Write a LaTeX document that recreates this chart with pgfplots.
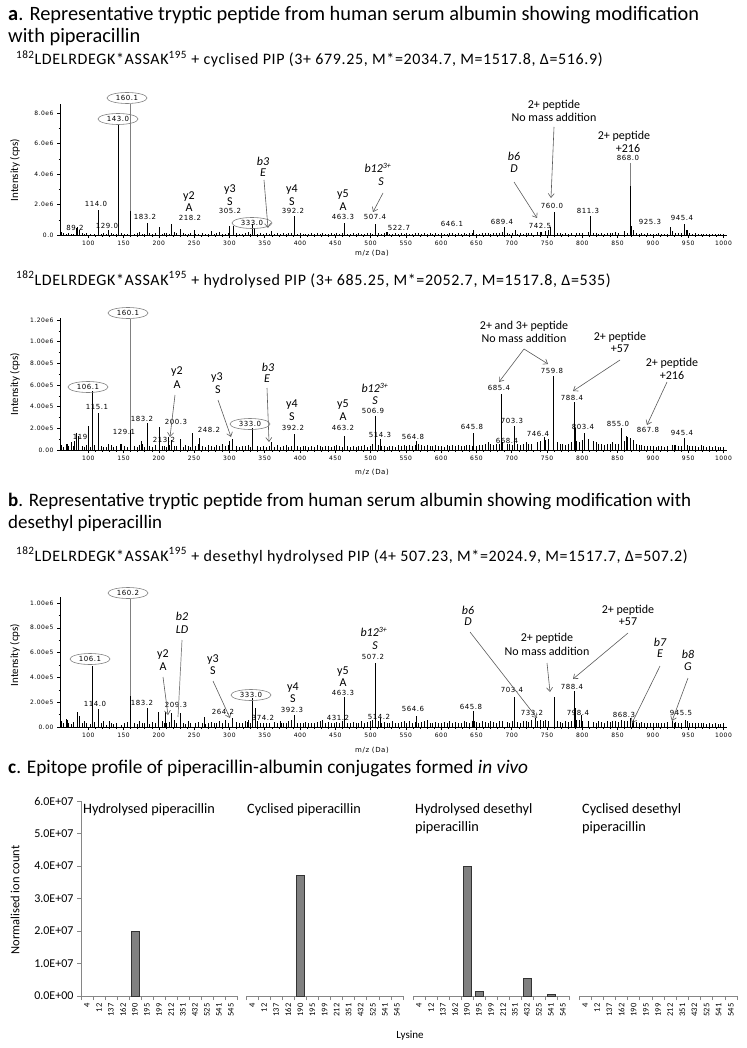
\documentclass[border=0pt]{standalone}
\usepackage{fontspec}
\setmainfont{Carlito}
\newfontfamily\ticfont[LetterSpace=8]{DejaVu Sans}
\newfontfamily\subfont[LetterSpace=4]{Carlito}
\usepackage{pgfplots}
\usepackage{pgfplotstable}
\pgfplotsset{compat=1.18}
\usetikzlibrary{shapes.geometric,arrows.meta}

\definecolor{ldr}{RGB}{128,128,128}
\definecolor{arrc}{RGB}{90,90,90}
\definecolor{barg}{RGB}{128,128,128}
\definecolor{axg}{RGB}{134,134,134}

% baseline noise of the three spectra (n1 in 1e6 cps, n2 and n3 in 1e5 cps)
\pgfplotstableread{
mz n1 n2 n3
62 0.22 0.45 0.50
65 0.10 0.30 0.35
69 0.08 0.55 0.65
72 0.12 0.35 0.30
76 0.06 0.70 0.25
79 0.09 0.40 0.40
91 0.10 0.35 0.30
94 0.07 0.25 0.45
97 0.12 0.45 0.35
103 0.05 0.30 0.25
109 0.08 0.50 0.40
118 0.06 0.35 0.30
121 0.10 0.30 0.45
125 0.07 0.25 0.20
132 0.15 0.45 0.35
135 0.06 0.30 0.25
139 0.08 0.40 0.30
147 0.10 0.55 0.20
151 0.06 0.35 0.30
155 0.09 0.25 0.40
165 0.07 0.40 0.35
169 0.12 0.30 0.25
172 0.18 0.45 0.50
176 0.08 0.55 0.30
179 0.06 0.30 0.35
187 0.10 0.35 0.25
191 0.08 0.25 0.40
195 0.12 0.50 0.30
205 0.09 0.40 0.45
208 0.15 0.35 0.35
211 0.10 0.30 0.30
215 0.07 0.45 0.40
222 0.20 0.35 0.55
225 0.12 0.40 0.30
235 0.10 0.30 0.35
238 0.06 0.50 0.25
242 0.08 0.40 0.45
245 0.14 0.30 0.30
252 0.07 0.35 0.30
256 0.09 0.55 0.40
262 0.11 0.40 0.35
266 0.07 0.30 0.25
270 0.09 0.45 0.30
274 0.20 0.35 0.40
278 0.08 0.30 0.35
282 0.12 0.45 0.30
286 0.18 0.35 0.45
290 0.09 0.55 0.35
294 0.07 0.40 0.60
298 0.12 0.50 0.35
310 0.10 0.35 0.40
314 0.08 0.30 0.30
318 0.07 0.40 0.35
322 0.12 0.35 0.50
326 0.20 0.45 0.55
329 0.09 0.30 0.30
340 0.08 0.40 0.45
344 0.10 0.30 0.35
348 0.07 0.35 0.30
352 0.12 0.30 0.35
356 0.09 0.40 0.30
364 0.08 0.30 0.40
368 0.10 0.45 0.30
372 0.09 0.30 0.50
376 0.12 0.35 0.30
380 0.07 0.45 0.35
384 0.10 0.30 0.45
388 0.15 0.40 0.55
396 0.08 0.35 0.30
400 0.11 0.30 0.35
404 0.07 0.40 0.30
408 0.09 0.35 0.40
412 0.06 0.30 0.35
416 0.10 0.40 0.30
420 0.08 0.30 0.35
424 0.12 0.45 0.40
428 0.07 0.35 0.50
432 0.10 0.30 0.60
436 0.08 0.40 0.35
440 0.09 0.35 0.40
444 0.12 0.30 0.30
448 0.07 0.40 0.35
452 0.10 0.45 0.40
456 0.08 0.35 0.30
460 0.14 0.30 0.45
467 0.09 0.40 0.35
471 0.07 0.30 0.30
475 0.10 0.35 0.40
479 0.08 0.30 0.35
483 0.12 0.40 0.30
487 0.07 0.35 0.45
491 0.09 0.45 0.35
495 0.11 0.30 0.40
499 0.15 0.40 0.50
503 0.09 0.60 0.60
511 0.12 0.50 0.45
515 0.08 0.40 0.35
519 0.10 0.35 0.40
523 0.20 0.30 0.35
527 0.08 0.40 0.30
531 0.09 0.35 0.45
535 0.12 0.30 0.35
539 0.07 0.45 0.30
543 0.10 0.35 0.40
547 0.08 0.50 0.45
551 0.11 0.40 0.35
555 0.09 0.45 0.50
559 0.07 0.35 0.35
563 0.10 0.50 0.40
568 0.12 0.60 0.35
572 0.08 0.50 0.40
576 0.10 0.40 0.45
580 0.09 0.45 0.60
584 0.11 0.35 0.35
588 0.07 0.40 0.30
592 0.10 0.45 0.40
596 0.08 0.35 0.35
600 0.12 0.40 0.30
604 0.09 0.30 0.40
608 0.07 0.50 0.35
612 0.15 0.40 0.45
616 0.12 0.45 0.30
620 0.08 0.35 0.40
624 0.10 0.50 0.35
628 0.09 0.40 0.30
632 0.12 0.35 0.45
636 0.08 0.45 0.40
640 0.15 0.50 0.35
644 0.10 0.40 0.50
650 0.09 0.35 0.40
654 0.08 0.45 0.35
658 0.11 0.50 0.45
662 0.10 0.60 0.40
666 0.12 0.70 0.35
670 0.09 0.55 0.45
674 0.10 0.50 0.40
678 0.15 0.60 0.35
682 0.12 0.55 0.50
686 0.20 0.70 0.45
693 0.12 0.55 0.40
697 0.09 0.60 0.35
701 0.10 0.50 0.45
708 0.08 0.55 0.40
712 0.12 0.45 0.35
716 0.09 0.60 0.50
720 0.15 0.70 0.45
724 0.10 0.55 0.40
728 0.12 0.60 0.60
736 0.18 0.70 0.50
740 0.20 0.80 0.55
748 0.25 0.90 0.60
752 0.30 1.00 0.50
764 0.12 0.70 0.45
768 0.10 0.60 0.40
772 0.09 0.55 0.35
776 0.12 0.50 0.45
780 0.08 0.60 0.40
784 0.10 0.70 0.50
792 0.15 0.80 0.60
796 0.12 0.70 0.55
800 0.10 0.90 0.50
808 0.20 1.00 0.45
815 0.15 0.80 0.40
819 0.10 0.70 0.35
823 0.08 0.60 0.45
827 0.12 0.55 0.40
831 0.09 0.50 0.35
835 0.10 0.60 0.45
839 0.12 0.55 0.40
843 0.15 0.70 0.50
847 0.20 0.60 0.45
851 0.12 0.55 0.40
859 0.25 0.80 0.50
863 0.15 1.20 0.45
872 0.30 0.90 0.60
876 0.12 0.60 0.40
880 0.09 0.50 0.35
884 0.10 0.45 0.40
888 0.08 0.40 0.35
892 0.10 0.35 0.30
896 0.07 0.40 0.35
900 0.09 0.35 0.30
904 0.08 0.30 0.35
908 0.10 0.35 0.30
912 0.07 0.40 0.35
916 0.09 0.30 0.30
920 0.08 0.35 0.40
928 0.25 0.50 0.45
932 0.15 0.45 0.40
936 0.10 0.40 0.35
940 0.12 0.35 0.30
949 0.30 0.50 0.45
952 0.10 0.40 0.35
956 0.08 0.35 0.30
960 0.10 0.40 0.35
964 0.07 0.30 0.30
968 0.09 0.50 0.35
972 0.08 0.35 0.30
976 0.07 0.30 0.25
980 0.09 0.35 0.30
984 0.06 0.30 0.25
988 0.08 0.35 0.30
992 0.07 0.30 0.25
996 0.06 0.25 0.25
1000 0.08 0.30 0.30
}\noise

% panel a1 : cyclised PIP (1e6 cps)
\pgfplotstableread{
mz I
83 0.45
85 0.50
87 0.30
114.0 1.64
129.0 0.30
160.1 1.55
183.2 0.80
201 0.50
218.2 0.70
230 0.40
250 0.30
275 0.25
300 0.62
305.2 0.60
333.0 0.75
336 0.45
360 0.25
392.2 1.25
463.3 0.80
507.4 0.70
522.7 0.20
646.1 0.30
689.4 0.55
705 0.30
742.5 0.22
755 0.50
760.0 1.50
811.3 1.25
868.0 3.20
870 0.60
925.3 0.50
945.4 0.70
947 0.35
}\peaksA

% panel a2 : hydrolysed PIP (1e5 cps)
\pgfplotstableread{
mz I
70 0.6
80 0.8
84 1.6
86 1.3
100 2.2
106.1 5.4
115.1 3.45
129.1 0.6
145 0.6
160.1 1.8
175 0.8
183.2 2.5
200.3 2.15
213.2 1.2
218 0.9
230 1.0
248.2 1.6
258 1.1
300 0.8
305 1.0
333.0 2.0
360 0.75
392.2 1.5
463.2 1.25
506.9 3.1
514.3 1.0
564.8 0.8
645.8 1.6
685.4 5.2
703.3 2.2
746.4 1.2
759.8 6.8
788.4 4.4
790 2.0
803.4 1.6
855.0 2.0
862 1.3
867.8 1.1
930 0.5
945.4 1.1
}\peaksB

% panel b : desethyl hydrolysed PIP (1e5 cps)
\pgfplotstableread{
mz I
70 0.6
85 1.2
87 0.9
106.1 4.9
114.0 1.45
130 0.5
160.2 2.5
183.2 1.5
200 1.25
209.3 1.2
218 1.1
230 1.1
264.2 0.8
305 0.7
325 0.4
333.0 2.3
337 1.5
374.2 0.3
392.3 1.0
431.2 0.3
463.3 2.4
507.2 5.2
514.2 0.7
564.6 0.86
580 0.6
645.8 1.26
647 0.5
703.4 2.4
733.2 0.73
745 0.5
760 2.4
788.4 2.9
790 1.5
798.4 1.0
855 0.6
868.3 0.7
871 0.5
930 0.35
945.5 0.6
}\peaksC

% panel c : normalised ion count per lysine (1e7)
\pgfplotstableread{
k lys hp cp hd cd
0 4 0 0 0 0
1 12 0 0 0 0
2 137 0 0 0 0
3 162 0 0 0 0
4 190 2.00 3.72 3.98 0
5 195 0 0 0.13 0
6 199 0 0 0 0
7 212 0 0 0 0
8 351 0 0 0 0
9 432 0 0 0.54 0
10 525 0 0 0 0
11 541 0 0 0.06 0
12 545 0 0 0 0
}\lysdata

\tikzset{
 lab/.style={font=\ticfont\fontsize{7}{8}\selectfont, inner sep=0pt},
 ann/.style={font=\fontsize{12}{13}\selectfont, inner sep=0pt},
 annI/.style={font=\fontsize{12}{13}\selectfont\itshape, inner sep=0pt},
 arr/.style={draw=arrc, line width=0.6pt, -{Straight Barb[length=4pt,width=6pt]}},
 ell/.style={ellipse, draw=ldr, line width=0.6pt, inner sep=0pt, minimum width=40pt, minimum height=11pt, font=\ticfont\fontsize{7}{8}\selectfont},
 ldl/.style={draw=ldr, line width=0.7pt},
 sub/.style={anchor=base west, inner sep=0pt, font=\subfont\fontsize{16}{18}\selectfont},
}

\pgfplotsset{
 spec/.style={scale only axis, width=667pt, xmin=60, xmax=1005, ymin=0,
  anchor=south west, axis lines*=left, tick align=outside,
  xtick={100,150,...,1000},
  xticklabels={100,150,200,250,300,350,400,450,500,550,600,650,700,750,800,850,900,950,1000},
  minor x tick num=4, minor y tick num=1,
  tick label style={font=\ticfont\fontsize{6}{7}\selectfont},
  major tick length=3pt, minor tick length=1.5pt, clip=false,
  axis line style={line width=0.6pt},
  every tick/.append style={line width=0.5pt, black}},
 noiseplot/.style={ycomb, no markers, black, line width=0.45pt},
 peakplot/.style={ycomb, no markers, black, line width=0.9pt},
 bars/.style={scale only axis, height=195pt, ymin=0, ymax=6, xmin=-0.5, xmax=12.5,
  anchor=south west, tick align=outside, clip=false,
  xtick={0,...,12},
  xticklabels={4,12,137,162,190,195,199,212,351,432,525,541,545},
  minor xtick={-0.5,0.5,...,12.5},
  major x tick style={draw=none}, minor x tick style={axg, line width=0.6pt},
  minor tick length=4pt, major tick length=4pt,
  xticklabel style={rotate=90, anchor=east, font=\fontsize{8.5}{9}\selectfont},
  axis line style={axg, line width=0.8pt},
  bar width=8pt, y filter/.expression={y==0 ? nan : y}},
 barplot/.style={ybar, fill=barg, draw=black!80, line width=0.8pt},
}

\begin{document}
\begin{tikzpicture}[x=1pt,y=1pt]
\useasboundingbox (0,0) rectangle (746,-1048);

% ---------- titles ----------
\node[anchor=base west, inner sep=0pt, font=\fontsize{20.4}{23}\selectfont] at (8,-21) {\textbf{a}. Representative tryptic peptide from human serum albumin showing modification};
\node[anchor=base west, inner sep=0pt, font=\fontsize{20.4}{23}\selectfont] at (8,-43) {with piperacillin};
\node[sub] at (16,-65) {\textsuperscript{182}LDELRDEGK*ASSAK\textsuperscript{195} + cyclised PIP (3+ 679.25, M*=2034.7, M=1517.8, Δ=516.9)};
\node[sub] at (16,-285) {\textsuperscript{182}LDELRDEGK*ASSAK\textsuperscript{195} + hydrolysed PIP (3+ 685.25, M*=2052.7, M=1517.8, Δ=535)};
\node[anchor=base west, inner sep=0pt, font=\fontsize{19}{22}\selectfont] at (8,-506) {\textbf{b}. Representative tryptic peptide from human serum albumin showing modification with};
\node[anchor=base west, inner sep=0pt, font=\fontsize{19}{22}\selectfont] at (8,-528) {desethyl piperacillin};
\node[sub] at (16,-561) {\textsuperscript{182}LDELRDEGK*ASSAK\textsuperscript{195} + desethyl hydrolysed PIP (4+ 507.23, M*=2024.9, M=1517.7, Δ=507.2)};
\node[anchor=base west, inner sep=0pt, font=\fontsize{19.3}{22}\selectfont] at (8,-773) {\textbf{c}. Epitope profile of piperacillin-albumin conjugates formed \textit{in vivo}};

% ---------- spectrum 1 ----------
\begin{axis}[spec, at={(60pt,-235pt)}, height=131pt, ymax=8.6,
  ytick={0,2,4,6,8}, yticklabels={0.0,2.0e6,4.0e6,6.0e6,8.0e6}]
\addplot[noiseplot] table[x=mz,y=n1] {\noise};
\addplot[peakplot] table[x=mz,y=I] {\peaksA};
\addplot[ycomb, no markers, black, line width=1.8pt] coordinates {(143.0,7.2)};
\end{axis}
\node[rotate=90, font=\fontsize{11}{12}\selectfont] at (15,-170) {Intensity (cps)};
\node[font=\ticfont\fontsize{7}{8}\selectfont] at (372,-253) {m/z (Da)};
\draw[ldl] (130.6,-104) -- (130.6,-211);
\draw[ldl] (630.3,-163) -- (630.3,-186);
\node[ell] at (127,-98) {160.1};
\node[ell] at (118,-119) {143.0};
\node[lab] at (96,-204) {114.0};
\node[lab] at (75,-228) {89.2};
\node[lab] at (107,-226) {129.0};
\node[lab] at (145,-217) {183.2};
\node[ann] at (189,-197) {y2}; \node[ann] at (189,-208) {A};
\node[lab] at (190,-218) {218.2};
\node[ann] at (230,-190) {y3}; \node[ann] at (230,-202) {S};
\node[lab] at (230,-211) {305.2};
\node[ell] at (252,-223) {333.0};
\node[annI] at (263,-161) {b3}; \node[annI] at (263,-173) {E};
\draw[arr] (264,-180) -- (268,-228);
\node[ann] at (292,-190) {y4}; \node[ann] at (292,-202) {S};
\node[lab] at (293,-211) {392.2};
\node[ann] at (343,-195) {y5}; \node[ann] at (343,-207) {A};
\node[lab] at (343,-217) {463.3};
\node[annI] at (378,-168) {b12\textsuperscript{3+}}; \node[annI] at (381,-182) {S};
\draw[arr] (383,-193) -- (373,-212);
\node[lab] at (375,-217) {507.4};
\node[lab] at (399,-228) {522.7};
\node[lab] at (452,-224) {646.1};
\node[lab] at (502,-222) {689.4};
\node[annI] at (514,-156) {b6}; \node[annI] at (514,-169) {D};
\draw[arr] (514,-182) -- (537,-218);
\node[lab] at (540,-226) {742.5};
\node[lab] at (552,-206) {760.0};
\node[ann] at (554,-105) {2+ peptide}; \node[ann] at (554,-117) {No mass addition};
\draw[arr] (554,-127) -- (551,-198);
\node[lab] at (588,-211) {811.3};
\node[ann] at (624,-136) {2+ peptide}; \node[ann] at (628,-148) {+216};
\node[lab] at (628,-158) {868.0};
\node[lab] at (650,-222) {925.3};
\node[lab] at (682,-218) {945.4};

% ---------- spectrum 2 ----------
\begin{axis}[spec, at={(60pt,-450pt)}, height=132.2pt, ymax=12.2,
  ytick={0,2,4,6,8,10,12}, yticklabels={0.00,2.00e5,4.00e5,6.00e5,8.00e5,1.00e6,1.20e6}]
\addplot[noiseplot] table[x=mz,y=n2] {\noise};
\addplot[peakplot] table[x=mz,y=I] {\peaksB};
\end{axis}
\node[rotate=90, font=\fontsize{11}{12}\selectfont] at (15,-384) {Intensity (cps)};
\node[font=\ticfont\fontsize{7}{8}\selectfont] at (372,-472) {m/z (Da)};
\draw[ldl] (130.6,-319) -- (130.6,-430);
\node[ell] at (128,-313) {160.1};
\node[ell] at (88,-387) {106.1};
\node[lab] at (97,-407) {115.1};
\node[lab] at (80,-437) {119};
\node[lab] at (124,-432) {129.1};
\node[lab] at (142,-419) {183.2};
\node[lab] at (176,-422) {200.3};
\node[lab] at (164,-440) {213.2};
\node[ann] at (177,-372) {y2}; \node[ann] at (177,-385) {A};
\draw[arr] (175,-395) -- (170,-437);
\node[lab] at (209,-430) {248.2};
\node[ann] at (217,-378) {y3}; \node[ann] at (218,-390) {S};
\draw[arr] (218,-400) -- (231,-437);
\node[ell] at (250,-424) {333.0};
\node[annI] at (268,-367) {b3}; \node[annI] at (267,-379) {E};
\draw[arr] (267,-388) -- (269,-442);
\node[ann] at (292,-405) {y4}; \node[ann] at (292,-417) {S};
\node[lab] at (293,-428) {392.2};
\node[ann] at (343,-405) {y5}; \node[ann] at (343,-417) {A};
\node[lab] at (343,-428) {463.2};
\node[annI] at (375,-388) {b12\textsuperscript{3+}}; \node[annI] at (375,-401) {S};
\node[lab] at (373,-411) {506.9};
\node[lab] at (380,-435) {514.3};
\node[lab] at (413,-437) {564.8};
\node[lab] at (472,-427) {645.8};
\node[lab] at (507,-441) {668.4};
\node[lab] at (499,-388) {685.4};
\node[lab] at (512,-421) {703.3};
\node[lab] at (538,-434) {746.4};
\node[lab] at (552,-371) {759.8};
\node[lab] at (572,-398) {788.4};
\node[lab] at (583,-427) {803.4};
\node[lab] at (618,-424) {855.0};
\node[lab] at (648,-430) {867.8};
\node[lab] at (682,-433) {945.4};
\node[ann] at (524,-326) {2+ and 3+ peptide}; \node[ann] at (524,-338) {No mass addition};
\draw[arr] (524,-349) -- (499,-382);
\draw[arr] (524,-349) -- (548,-364);
\node[ann] at (620,-337) {2+ peptide}; \node[ann] at (620,-349) {+57};
\draw[arr] (620,-360) -- (573,-391);
\node[ann] at (672,-363) {2+ peptide}; \node[ann] at (672,-375) {+216};
\draw[arr] (667,-382) -- (647,-425);

% ---------- spectrum 3 ----------
\begin{axis}[spec, at={(60pt,-727pt)}, height=130pt, ymax=10.48,
  ytick={0,2,4,6,8,10}, yticklabels={0.00,2.00e5,4.00e5,6.00e5,8.00e5,1.00e6}]
\addplot[noiseplot] table[x=mz,y=n3] {\noise};
\addplot[peakplot] table[x=mz,y=I] {\peaksC};
\end{axis}
\node[rotate=90, font=\fontsize{11}{12}\selectfont] at (15,-655) {Intensity (cps)};
\node[font=\ticfont\fontsize{7}{8}\selectfont] at (372,-750) {m/z (Da)};
\draw[ldl] (130.7,-599) -- (130.7,-696);
\node[ell] at (128,-593) {160.2};
\node[ell] at (90,-659) {106.1};
\node[lab] at (95,-704) {114.0};
\node[lab] at (142,-703) {183.2};
\node[lab] at (176,-705) {209.3};
\node[annI] at (182,-616) {b2}; \node[annI] at (182,-630) {LD};
\draw[ldl] (182,-640) -- (178,-717);
\node[ann] at (163,-655) {y2}; \node[ann] at (163,-667) {A};
\draw[arr] (163,-677) -- (168,-715);
\node[ann] at (213,-660) {y3}; \node[ann] at (213,-671) {S};
\draw[arr] (213,-681) -- (230,-718);
\node[lab] at (223,-712) {264.2};
\node[ell] at (251,-695) {333.0};
\node[lab] at (263,-718) {374.2};
\node[ann] at (293,-688) {y4}; \node[ann] at (293,-699) {S};
\node[lab] at (292,-710) {392.3};
\node[lab] at (338,-718) {431.2};
\node[ann] at (343,-672) {y5}; \node[ann] at (343,-683) {A};
\node[lab] at (343,-693) {463.3};
\node[annI] at (374,-632) {b12\textsuperscript{3+}}; \node[annI] at (375,-646) {S};
\node[lab] at (373,-657) {507.2};
\node[lab] at (379,-717) {514.2};
\node[lab] at (413,-709) {564.6};
\node[lab] at (471,-707) {645.8};
\node[lab] at (512,-690) {703.4};
\node[lab] at (532,-713) {733.2};
\node[lab] at (572,-687) {788.4};
\node[lab] at (578,-713) {798.4};
\node[lab] at (624,-715) {868.3};
\node[lab] at (681,-713) {945.5};
\node[annI] at (468,-610) {b6}; \node[annI] at (468,-622) {D};
\draw[arr] (470,-632) -- (537,-718);
\node[ann] at (547,-638) {2+ peptide}; \node[ann] at (547,-651) {No mass addition};
\draw[arr] (547,-663) -- (550,-692);
\node[ann] at (628,-610) {2+ peptide}; \node[ann] at (628,-622) {+57};
\draw[arr] (628,-633) -- (573,-679);
\node[annI] at (660,-642) {b7}; \node[annI] at (660,-654) {E};
\draw[arr] (660,-666) -- (632,-723);
\node[annI] at (688,-654) {b8}; \node[annI] at (688,-667) {G};
\draw[arr] (688,-678) -- (672,-721);

% ---------- epitope profile ----------
\begin{axis}[bars, at={(81pt,-996pt)}, width=156pt,
  axis x line*=bottom, axis y line*=left,
  ytick={0,...,6}, yticklabels={0.0E+00,1.0E+07,2.0E+07,3.0E+07,4.0E+07,5.0E+07,6.0E+07},
  major y tick style={axg, line width=0.6pt},
  yticklabel style={font=\fontsize{12}{13}\selectfont}]
\addplot[barplot] table[x=k,y=hp] {\lysdata};
\end{axis}
\begin{axis}[bars, at={(246pt,-996pt)}, width=157pt,
  axis x line*=bottom, axis y line=none, ytick=\empty]
\addplot[barplot] table[x=k,y=cp] {\lysdata};
\end{axis}
\begin{axis}[bars, at={(413pt,-996pt)}, width=156pt,
  axis x line*=bottom, axis y line=none, ytick=\empty]
\addplot[barplot] table[x=k,y=hd] {\lysdata};
\end{axis}
\begin{axis}[bars, at={(579pt,-996pt)}, width=158pt,
  axis x line*=bottom, axis y line=none, ytick=\empty]
\addplot[barplot, forget plot] table[x=k,y=cd] {\lysdata};
\end{axis}
\node[anchor=base west, inner sep=0pt, font=\fontsize{14.3}{15}\selectfont] at (83,-813) {Hydrolysed piperacillin};
\node[anchor=base west, inner sep=0pt, font=\fontsize{14.3}{15}\selectfont] at (247,-813) {Cyclised piperacillin};
\node[anchor=base west, inner sep=0pt, font=\fontsize{14.3}{15}\selectfont] at (415,-813) {Hydrolysed desethyl};
\node[anchor=base west, inner sep=0pt, font=\fontsize{14.3}{15}\selectfont] at (415,-831) {piperacillin};
\node[anchor=base west, inner sep=0pt, font=\fontsize{14.3}{15}\selectfont] at (582,-813) {Cyclised desethyl};
\node[anchor=base west, inner sep=0pt, font=\fontsize{14.3}{15}\selectfont] at (582,-831) {piperacillin};
\node[rotate=90, font=\fontsize{12.5}{13}\selectfont] at (15,-900) {Normalised ion count};
\node[font=\fontsize{11}{12}\selectfont] at (410,-1036) {Lysine};
\end{tikzpicture}
\end{document}
